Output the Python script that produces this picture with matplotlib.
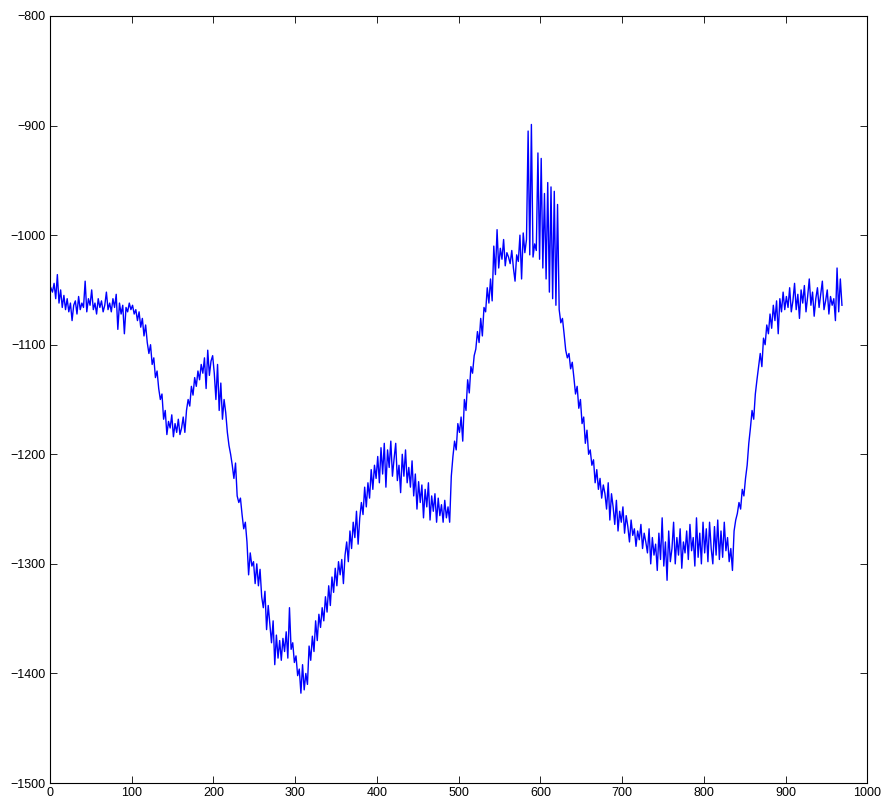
import numpy as np
import matplotlib
matplotlib.use("Agg")
import matplotlib.pyplot as plt

# sample index (every 2nd sample)
x = np.arange(1, 970, 2)

signal = [
    -1048, -1052, -1044, -1058, -1036, -1062, -1050, -1066, -1055, -1068,
    -1058, -1070, -1062, -1078, -1064, -1060, -1072, -1056, -1068, -1062,
    -1066, -1042, -1070, -1058, -1064, -1050, -1068, -1062, -1072, -1058,
    -1066, -1060, -1070, -1064, -1052, -1068, -1062, -1070, -1058, -1066,
    -1054, -1086, -1062, -1072, -1064, -1090, -1066, -1070, -1062, -1068,
    -1064, -1072, -1068, -1078, -1070, -1084, -1076, -1092, -1082, -1098,
    -1108, -1100, -1118, -1112, -1130, -1124, -1140, -1150, -1145, -1168,
    -1160, -1182, -1170, -1176, -1164, -1184, -1172, -1180, -1168, -1182,
    -1176, -1166, -1180, -1160, -1150, -1156, -1138, -1146, -1130, -1138,
    -1124, -1132, -1118, -1126, -1112, -1140, -1105, -1128, -1115, -1110,
    -1126, -1150, -1118, -1160, -1135, -1168, -1150, -1162, -1180, -1192,
    -1200, -1210, -1222, -1208, -1238, -1244, -1240, -1255, -1268, -1262,
    -1280, -1310, -1290, -1302, -1298, -1318, -1300, -1320, -1305, -1330,
    -1340, -1325, -1360, -1338, -1355, -1372, -1352, -1392, -1365, -1386,
    -1370, -1388, -1368, -1380, -1362, -1386, -1340, -1378, -1372, -1390,
    -1384, -1402, -1396, -1418, -1392, -1415, -1400, -1410, -1375, -1388,
    -1366, -1380, -1352, -1370, -1346, -1358, -1340, -1352, -1330, -1344,
    -1320, -1338, -1312, -1326, -1304, -1320, -1298, -1310, -1296, -1318,
    -1292, -1280, -1298, -1270, -1286, -1262, -1276, -1252, -1282, -1258,
    -1244, -1255, -1230, -1248, -1226, -1240, -1214, -1232, -1210, -1222,
    -1202, -1226, -1194, -1218, -1190, -1230, -1196, -1212, -1188, -1220,
    -1204, -1190, -1224, -1210, -1235, -1200, -1220, -1196, -1226, -1212,
    -1230, -1206, -1238, -1218, -1250, -1225, -1244, -1228, -1258, -1232,
    -1248, -1226, -1260, -1238, -1252, -1236, -1262, -1240, -1256, -1246,
    -1262, -1242, -1258, -1248, -1262, -1220, -1202, -1188, -1196, -1172,
    -1180, -1166, -1188, -1150, -1160, -1132, -1144, -1120, -1126, -1110,
    -1104, -1088, -1098, -1076, -1092, -1066, -1070, -1048, -1062, -1040,
    -1060, -1010, -1036, -995, -1030, -1012, -1022, -1004, -1028, -1016,
    -1020, -1026, -1014, -1030, -1042, -1018, -1024, -1000, -1040, -998,
    -1016, -1004, -905, -1018, -899, -1020, -1008, -1014, -925, -1022,
    -930, -1030, -962, -1040, -952, -1052, -956, -1058, -960, -1064,
    -972, -1068, -1080, -1076, -1090, -1105, -1112, -1108, -1122, -1116,
    -1130, -1145, -1138, -1158, -1150, -1172, -1166, -1190, -1178, -1200,
    -1196, -1210, -1205, -1226, -1214, -1232, -1222, -1240, -1228, -1236,
    -1250, -1226, -1260, -1236, -1248, -1264, -1242, -1270, -1252, -1262,
    -1248, -1272, -1256, -1266, -1280, -1260, -1274, -1268, -1284, -1270,
    -1278, -1264, -1286, -1272, -1280, -1290, -1268, -1300, -1276, -1292,
    -1282, -1306, -1272, -1296, -1258, -1302, -1280, -1315, -1270, -1298,
    -1286, -1262, -1300, -1276, -1292, -1268, -1304, -1280, -1290, -1270,
    -1296, -1264, -1288, -1276, -1302, -1258, -1294, -1272, -1300, -1262,
    -1290, -1268, -1298, -1262, -1286, -1300, -1266, -1292, -1260, -1296,
    -1270, -1294, -1262, -1288, -1276, -1298, -1286, -1306, -1270, -1260,
    -1254, -1244, -1250, -1232, -1238, -1222, -1210, -1190, -1176, -1160,
    -1168, -1145, -1132, -1120, -1108, -1120, -1094, -1100, -1082, -1090,
    -1072, -1085, -1064, -1078, -1060, -1090, -1058, -1070, -1052, -1068,
    -1056, -1066, -1048, -1070, -1060, -1044, -1068, -1054, -1076, -1050,
    -1062, -1046, -1070, -1056, -1040, -1064, -1052, -1074, -1058, -1048,
    -1066, -1054, -1042, -1068, -1060, -1050, -1072, -1056, -1064, -1058,
    -1078, -1030, -1070, -1040, -1064,
]

xticks = [0, 100, 200, 300, 400, 500, 600, 700, 800, 900, 1000]
yticks = [-1500, -1400, -1300, -1200, -1100, -1000, -900, -800]

plt.rcParams["font.family"] = ["Liberation Sans", "DejaVu Sans"]

fig = plt.figure(figsize=(8.85, 7.99), dpi=100)
ax = fig.add_axes([0.0565, 0.020, 0.9235, 0.960])

ax.plot(x, signal, color="#0000ff", linewidth=1.0)

ax.set_xlim(0, 1000)
ax.set_ylim(-1500, -800)
ax.set_xticks(xticks)
ax.set_yticks(yticks)
ax.tick_params(direction="in", top=True, right=True, length=5, width=0.6,
               labelsize=9, pad=3)
for s in ax.spines.values():
    s.set_linewidth(0.8)

fig.savefig("out.png", dpi=100)
